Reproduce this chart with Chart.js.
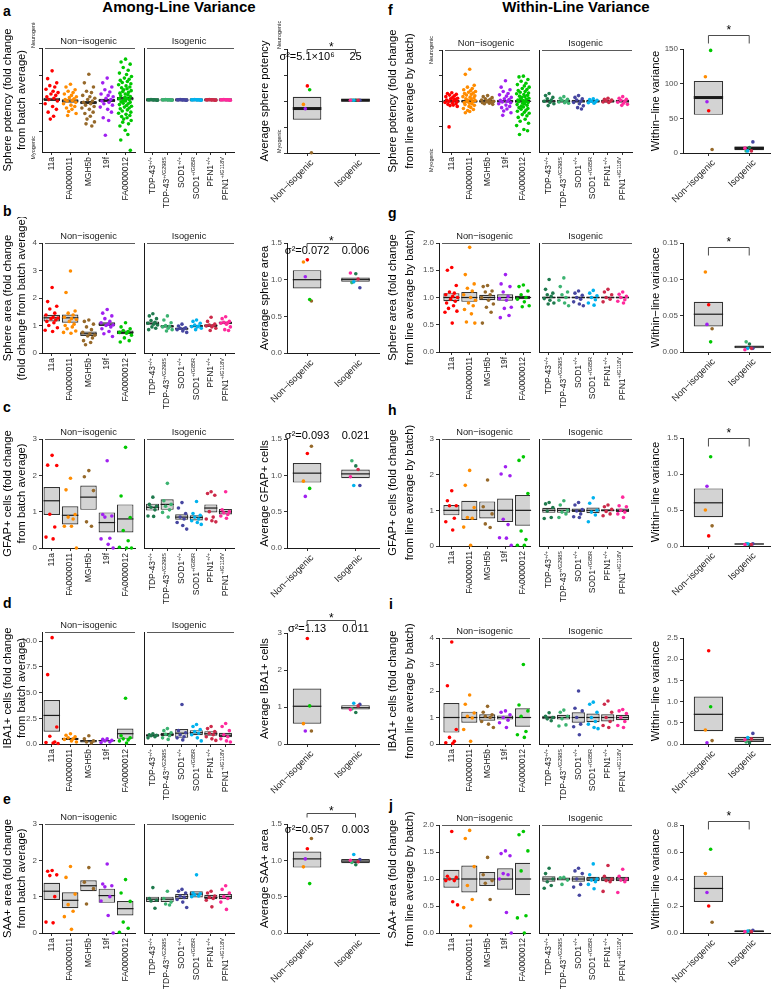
<!DOCTYPE html>
<html><head><meta charset="utf-8">
<script src="https://cdn.jsdelivr.net/npm/chart.js@4.4.1/dist/chart.umd.min.js"></script>
<style>
html,body{margin:0;padding:0;background:#fff;}
#root{position:relative;width:774px;height:995px;overflow:hidden;background:#fff;font-family:"Liberation Sans",Arial,sans-serif;}
.t{position:absolute;font-weight:bold;color:#000;white-space:nowrap;}
.ttl{font-size:15px;line-height:15px;transform:translateX(-50%);top:-1px;}
.lt{font-size:14px;line-height:14px;}
</style></head><body><div id="root">
<div class="t ttl" style="left:179px;">Among-Line Variance</div>
<div class="t ttl" style="left:576px;">Within-Line Variance</div>
<div class="t lt" style="left:3px;top:4px;">a</div>
<div class="t lt" style="left:3px;top:204px;">b</div>
<div class="t lt" style="left:3px;top:400px;">c</div>
<div class="t lt" style="left:3px;top:596px;">d</div>
<div class="t lt" style="left:3px;top:792px;">e</div>
<div class="t lt" style="left:388px;top:3px;">f</div>
<div class="t lt" style="left:388px;top:206px;">g</div>
<div class="t lt" style="left:388px;top:403px;">h</div>
<div class="t lt" style="left:389px;top:597px;">i</div>
<div class="t lt" style="left:389px;top:798px;">j</div>
</div>
<script>
// ---------------- categories, labels, colours ----------------
const nonIsoNames = ['11a','FA0000011','MGH5b','19f','FA0000012'];
const isoNames = ['TDP-43','TDP-43','SOD1','SOD1','PFN1','PFN1'];
const isoSup = ['+/+','+/G298S','+/+','+/G85R','+/+','+/G118V'];
const groupNames = ['Non\u2212isogenic','Isogenic'];
const nonIsoColors = ['#ff0000','#ff8c00','#96692a','#a020f0','#00c800'];
const isoColors = ['#1f7a4d','#3cb371','#4646a0','#00b2ee','#cd2a4a','#ff2a9c'];

// ---------------- panel a ----------------
const aLines = [
 [1.18,0.9,0.75,0.65,0.6,0.52,0.45,0.4,0.35,0.3,0.25,0.2,0.15,0.1,0.0,-0.1,-0.2,-0.3,-0.45,-0.55],
 [0.7,0.6,0.5,0.45,0.4,0.35,0.3,0.25,0.22,0.18,0.15,0.12,0.1,0.05,0.0,-0.05,-0.1,-0.15,-0.2,-0.28,-0.35,-0.42],
 [1.06,0.75,0.6,0.45,0.4,0.3,0.25,0.2,0.15,0.1,0.05,0.0,-0.05,-0.1,-0.15,-0.2,-0.3,-0.35,-0.45,-0.55,-0.65,-0.72,-0.8],
 [0.92,0.75,0.6,0.5,0.42,0.35,0.3,0.25,0.2,0.15,0.1,0.05,0.0,-0.05,-0.12,-0.2,-0.3,-0.5,-0.6,-1.13],
 [1.6,1.5,1.42,1.3,1.2,1.1,1.05,0.98,0.92,0.88,0.84,0.8,0.76,0.72,0.68,0.64,0.6,0.57,0.54,0.5,0.47,0.44,0.41,0.38,0.35,0.32,0.29,0.26,0.23,0.2,0.18,0.15,0.12,0.1,0.07,0.05,0.02,0.0,-0.03,-0.06,-0.09,-0.12,-0.15,-0.18,-0.22,-0.26,-0.3,-0.34,-0.38,-0.42,-0.46,-0.5,-0.55,-0.6,-0.66,-0.72,-0.8,-0.95,-1.1,-1.3,-1.67],
 [0.14,0.14,0.13,0.15,0.14,0.14,0.14,0.13],
 [0.14,0.14,0.13,0.15,0.14,0.14,0.14,0.13],
 [0.14,0.14,0.13,0.15,0.14,0.14,0.14,0.13],
 [0.14,0.14,0.13,0.15,0.14,0.14,0.14,0.13],
 [0.14,0.14,0.13,0.15,0.14,0.14,0.14,0.13],
 [0.14,0.14,0.13,0.15,0.14,0.14,0.14,0.13]];
const aBoxes = [[0.1,0.16,0.22],[0.04,0.1,0.16],[-0.02,0.04,0.1],[0.06,0.12,0.18],[0.12,0.18,0.24],
 [0.08,0.14,0.2],[0.08,0.14,0.2],[0.08,0.14,0.2],[0.08,0.14,0.2],[0.08,0.14,0.2],[0.08,0.14,0.2]];
const aAvgNon = [0.58,-0.13,-1.99,-0.3,0.43];
const aAvgIso = [0.03,0.03,0.03,0.03,0.03,0.03];
const aAvgBoxes = [[-0.72,-0.29,0.16],[-0.02,0.03,0.08]];
const aSigma = ['\u03c3\u00b2=5.1\u00d710\u2076','25'];

// ---------------- panel b ----------------
const bLines = [
 [2.38,1.87,1.7,1.6,1.45,1.38,1.3,1.27,1.25,1.2,1.15,1.1,1.0,0.92,0.83,0.78],
 [2.98,2.2,1.53,1.45,1.38,1.3,1.25,1.22,1.15,1.05,1.0,0.95,0.88,0.8,0.75,0.72],
 [1.2,1.15,1.05,0.95,0.85,0.75,0.7,0.65,0.62,0.55,0.45,0.38,0.3],
 [1.58,1.45,1.35,1.25,1.15,1.1,1.05,1.02,1.0,0.95,0.88,0.78,0.7,0.6],
 [1.1,0.95,0.88,0.82,0.78,0.75,0.72,0.65,0.55,0.45,0.4],
 [1.43,1.35,1.25,1.18,1.12,1.08,1.05,1.02,0.95,0.9,0.85],
 [1.35,1.2,1.1,1.0,0.97,0.95,0.9,0.85,0.8],
 [1.05,0.98,0.92,0.9,0.88,0.85,0.8,0.75],
 [1.2,1.15,1.08,1.02,0.98,0.96,0.95,0.9,0.85],
 [1.3,1.15,1.05,1.02,1.0,0.98,0.95,0.9,0.82],
 [1.32,1.25,1.15,1.12,1.1,1.08,1.05,0.95,0.85,0.82]];
const bBoxes = [[1.15,1.28,1.39],[1.1,1.28,1.4],[0.62,0.7,0.78],[0.98,1.05,1.12],[0.68,0.75,0.82],
 [1.03,1.08,1.15],[0.92,0.97,1.02],[0.85,0.88,0.93],[0.93,0.98,1.02],[0.95,1.0,1.05],[1.05,1.1,1.15]];
const bAvgNon = [1.27,1.24,0.71,1.04,0.73];
const bAvgIso = [1.08,0.96,0.89,0.97,1.01,1.09];
const bAvgBoxes = [[0.88,1.0,1.13],[0.97,1.0,1.03]];
const bSigma = ['\u03c3\u00b2=0.072','0.006'];

// ---------------- panel c ----------------
const cLines = [
 [2.55,2.28,2.27,0.93,0.58,0.3,0.25],
 [1.92,1.6,0.92,0.85,0.8,0.6,0.6,0.0],
 [2.13,1.96,1.58,0.72,0.6],
 [2.4,0.92,0.88,0.85,0.27,0.25,0.1,0.0],
 [2.77,1.43,0.84,0.48,0.2,0.02,0.0,0.0],
 [1.4,1.2,1.15,1.12,1.05,0.88,0.87],
 [1.78,1.3,1.2,1.15,1.05,0.98,0.85],
 [1.25,1.1,0.95,0.85,0.8,0.7,0.62,0.52],
 [1.28,0.95,0.9,0.85,0.8,0.75,0.7,0.65],
 [1.55,1.5,1.45,1.0,0.85,0.8,0.75,0.72],
 [1.55,1.05,1.0,0.97,0.92,0.88,0.82]];
const cBoxes = [[0.91,1.3,1.68],[0.65,0.9,1.15],[1.05,1.4,1.72],[0.43,0.7,0.98],[0.43,0.8,1.2],
 [1.03,1.12,1.22],[1.05,1.2,1.34],[0.78,0.85,0.93],[0.76,0.84,0.9],[0.98,1.1,1.2],[0.92,1.0,1.07]];
const cAvgNon = [1.3,0.92,1.4,0.71,0.82];
const cAvgIso = [1.13,1.2,0.86,0.86,1.08,0.98];
const cAvgBoxes = [[0.9,1.03,1.17],[0.96,1.02,1.08]];
const cSigma = ['\u03c3\u00b2=0.093','0.021'];

// ---------------- panel d ----------------
const dLines = [
 [10.35,6.75,1.65,0.75,0.2,0.15,0.1,0.05],
 [1.0,0.85,0.7,0.6,0.5,0.45,0.3,0.2],
 [0.8,0.5,0.3,0.2,0.1],
 [0.5,0.45,0.35,0.3,0.2,0.15],
 [4.45,0.8,0.6,0.5,0.4,0.3,0.1],
 [1.0,0.9,0.85,0.8,0.7,0.6],
 [1.5,1.3,1.1,0.95,0.8,0.6,0.45],
 [3.85,1.3,1.1,0.9,0.7,0.6,0.4],
 [1.9,1.7,1.4,1.2,1.05,0.9,0.6,0.3],
 [1.7,1.5,1.2,1.05,0.9,0.7,0.5,0.35],
 [2.0,1.7,1.3,0.9,0.7,0.5,0.3,0.2]];
const dBoxes = [[1.2,2.78,4.27],[0.4,0.5,0.6],[0.15,0.3,0.4],[0.25,0.33,0.4],[0.5,1.0,1.5],
 [0.7,0.85,0.95],[0.75,0.92,1.1],[0.6,1.05,1.45],[0.85,1.1,1.35],[0.8,1.0,1.25],[0.65,0.85,1.1]];
const dAvgNon = [2.85,0.55,0.35,0.35,1.03];
const dAvgIso = [0.85,0.95,1.07,1.1,1.03,0.93];
const dAvgBoxes = [[0.55,1.02,1.5],[0.93,0.98,1.05]];
const dSigma = ['\u03c3\u00b2=1.13','0.011'];

// ---------------- panel e ----------------
const eLines = [
 [1.72,1.7,1.6,1.58,1.0,0.3,0.28],
 [1.83,1.53,1.07,0.78,0.6,0.45,0.1],
 [1.8,1.4,1.22,0.8],
 [1.9,1.35,1.3,1.27,1.0,0.88,0.48,0.0],
 [1.47,1.1,0.87,0.3,0.13,0.02],
 [1.25,0.95,0.9,0.88,0.68],
 [1.15,0.95,0.85,0.8,0.77],
 [1.2,1.15,1.1,1.02,0.98,0.92,0.85,0.7],
 [1.6,1.1,1.08,1.05,1.02,1.0],
 [1.15,1.1,1.02,0.98,0.95,0.9,0.72],
 [1.3,1.2,1.1,1.0,0.95,0.85,0.65]];
const eBoxes = [[0.91,1.15,1.38],[0.68,0.9,1.12],[1.15,1.3,1.45],[0.83,1.03,1.22],[0.48,0.67,0.88],
 [0.85,0.93,1.0],[0.85,0.93,1.0],[0.93,1.0,1.07],[0.98,1.07,1.15],[0.93,0.98,1.05],[0.93,1.0,1.07]];
const eAvgNon = [1.16,0.91,1.3,1.02,0.68];
const eAvgIso = [0.94,0.97,1.01,1.08,0.98,1.0];
const eAvgBoxes = [[0.9,1.02,1.12],[0.96,0.99,1.02]];
const eSigma = ['\u03c3\u00b2=0.057','0.003'];

// ---------------- panel f ----------------
const fLines = [
 [0.33,0.3,0.27,0.24,0.21,0.18,0.15,0.12,0.1,0.08,0.05,0.03,0.0,-0.02,-0.05,-0.07,-0.1,-0.12,-0.15,-0.17,-0.2,-1.0],
 [1.25,1.05,0.62,0.55,0.5,0.45,0.42,0.38,0.35,0.32,0.3,0.27,0.24,0.21,0.18,0.16,0.13,0.1,0.08,0.05,0.03,0.0,-0.02,-0.05,-0.08,-0.1,-0.13,-0.16,-0.2,-0.24,-0.28,-0.32,-0.36,-0.4,-0.45],
 [0.22,0.18,0.14,0.1,0.08,0.05,0.03,0.0,-0.02,-0.04,-0.06,-0.08,-0.1,-0.12],
 [0.8,0.55,0.45,0.38,0.3,0.25,0.2,0.15,0.1,0.07,0.04,0.0,-0.03,-0.06,-0.1,-0.15,-0.2,-0.25,-0.3,-0.38,-0.45,-0.55],
 [0.98,0.95,0.85,0.78,0.7,0.65,0.6,0.55,0.5,0.46,0.42,0.38,0.35,0.32,0.29,0.26,0.23,0.2,0.18,0.15,0.12,0.1,0.08,0.05,0.03,0.0,-0.02,-0.05,-0.08,-0.1,-0.13,-0.16,-0.19,-0.22,-0.25,-0.28,-0.31,-0.35,-0.39,-0.43,-0.47,-0.52,-0.57,-0.63,-0.7,-0.78,-0.86,-0.95,-1.1,-1.15,-1.3],
 [0.3,0.22,0.15,0.1,0.05,0.0,-0.05,-0.1,-0.17],
 [0.18,0.12,0.08,0.04,0.0,-0.03,-0.06,-0.08],
 [0.22,0.15,0.1,0.05,0.0,-0.05,-0.1,-0.18,-0.25,-0.3],
 [0.1,0.07,0.04,0.0,-0.03,-0.06,-0.08],
 [0.12,0.08,0.05,0.02,0.0,-0.03,-0.05],
 [0.18,0.12,0.08,0.04,0.0,-0.04,-0.08,-0.12,-0.16]];
const fBoxes = [[-0.06,0,0.06],[-0.06,0,0.06],[-0.06,0,0.06],[-0.06,0,0.06],[-0.06,0,0.06],
 [-0.06,0,0.06],[-0.06,0,0.06],[-0.06,0,0.06],[-0.06,0,0.06],[-0.06,0,0.06],[-0.06,0,0.06]];
const fAvgNon = [61,110,5,74,148];
const fAvgIso = [8,3,16,3,3,7];
const fAvgBoxes = [[55,80,104],[4,7,9]];

// ---------------- panel g ----------------
const gLines = [
 [1.55,1.5,1.22,1.1,1.08,1.05,1.02,1.0,0.97,0.93,0.9,0.85,0.8,0.75,0.73,0.53],
 [1.92,1.42,1.25,1.17,1.12,1.05,1.0,0.95,0.9,0.85,0.78,0.7,0.55,0.53],
 [1.22,1.2,1.12,1.1,1.05,1.0,0.95,0.88,0.82,0.73,0.53],
 [1.42,1.25,1.2,1.1,1.02,0.98,0.95,0.82,0.8,0.67,0.63],
 [1.23,1.2,1.12,1.05,1.0,0.97,0.92,0.85,0.83],
 [1.33,1.15,1.08,1.05,1.02,0.98,0.95,0.9,0.88],
 [1.36,1.2,1.1,1.05,1.0,0.95,0.9,0.85],
 [1.12,1.08,1.04,1.0,0.97,0.92,0.88,0.85],
 [1.13,1.08,1.03,1.0,0.96,0.9,0.86],
 [1.15,1.1,1.05,1.0,0.97,0.92],
 [1.1,1.06,1.02,1.0,0.96,0.93,0.9]];
const gBoxes = [[0.93,1.0,1.08],[0.92,1.0,1.1],[0.95,1.0,1.05],[0.94,1.0,1.06],[0.97,1.0,1.03],
 [0.98,1.0,1.02],[0.98,1.0,1.02],[0.98,1.0,1.02],[0.98,1.0,1.02],[0.98,1.0,1.02],[0.98,1.0,1.02]];
const gAvgNon = [0.065,0.11,0.032,0.038,0.014];
const gAvgIso = [0.011,0.014,0.005,0.005,0.005,0.003];
const gAvgBoxes = [[0.035,0.052,0.069],[0.005,0.007,0.009]];

// ---------------- panel h ----------------
const hLines = [
 [1.55,1.27,1.13,1.13,0.78,0.68,0.45],
 [2.12,1.7,1.08,0.8,0.78,0.53,0.02],
 [1.85,1.1,0.9,0.62,0.52],
 [2.22,2.02,1.97,0.75,0.6,0.23,0.22,0.02],
 [2.5,2.4,1.47,0.42,0.18,0.02,0.02],
 [1.22,1.18,1.08,0.98,0.8,0.77],
 [1.27,1.15,1.0,0.95,0.9,0.8],
 [1.22,1.15,1.02,0.98,0.9,0.82,0.8],
 [1.35,1.2,1.0,0.95,0.87,0.68],
 [1.15,1.1,1.03,0.97,0.9,0.85],
 [1.37,1.13,1.1,1.0,0.95,0.9,0.8]];
const hBoxes = [[0.86,1.0,1.15],[0.73,1.0,1.27],[0.77,1.0,1.25],[0.67,1.0,1.33],[0.57,1.0,1.43],
 [0.93,1.0,1.07],[0.93,1.0,1.07],[0.95,1.0,1.05],[0.92,1.0,1.08],[0.97,1.0,1.03],[0.95,1.0,1.05]];
const hAvgNon = [0.14,0.5,0.28,0.83,1.24];
const hAvgIso = [0.02,0.03,0.03,0.03,0.02,0.02];
const hAvgBoxes = [[0.4,0.6,0.8],[0.02,0.028,0.035]];

// ---------------- panel i ----------------
const iLines = [
 [3.85,2.2,0.55,0.25,0.1,0.05,0.02],
 [1.85,1.5,1.17,1.05,0.98,0.55,0.1],
 [1.42,1.2,1.1,1.05,1.0,0.85,0.75,0.62],
 [1.25,1.2,1.1,1.0,0.9,0.8,0.62],
 [3.0,1.47,1.25,1.05,0.47,0.35,0.25],
 [1.18,1.05,1.0,0.95,0.88],
 [1.28,1.2,1.05,0.95,0.72,0.68],
 [2.0,1.35,1.25,1.0,0.75,0.65,0.35],
 [1.58,1.5,1.2,1.0,0.85,0.75,0.62,0.58],
 [1.62,1.5,1.2,1.0,0.85,0.7,0.62],
 [1.3,1.25,1.15,1.0,0.85,0.7,0.62]];
const iBoxes = [[0.43,1.0,1.55],[0.8,1.0,1.22],[0.88,1.0,1.12],[0.92,1.0,1.08],[0.65,1.0,1.35],
 [0.93,1.0,1.07],[0.92,1.0,1.1],[0.8,1.0,1.2],[0.82,1.0,1.15],[0.85,1.0,1.12],[0.9,1.0,1.1]];
const iAvgNon = [2.2,0.33,0.08,0.03,0.88];
const iAvgIso = [0.03,0.05,0.25,0.15,0.12,0.1];
const iAvgBoxes = [[0.3,0.7,1.12],[0.05,0.1,0.17]];

// ---------------- panel j ----------------
const jLines = [
 [1.88,1.05,1.03,1.0,0.97,0.97,0.58,0.52],
 [1.9,1.75,1.23,0.88,0.62,0.47,0.13],
 [1.4,1.08,0.97,0.92,0.62],
 [1.52,1.47,1.43,1.1,1.08,1.0,0.38,0.0],
 [1.88,1.82,1.52,1.15,0.32,0.28,0.0],
 [1.2,1.1,1.0,0.95,0.88,0.83],
 [1.03,1.02,0.98,0.9],
 [1.2,1.15,1.1,1.0,0.9,0.85,0.7],
 [1.28,1.08,1.0,0.98,0.95,0.9,0.82],
 [1.25,1.05,1.0,0.97,0.95,0.77],
 [1.18,1.05,1.0,0.98,0.95,0.75]];
const jBoxes = [[0.84,1.0,1.17],[0.75,1.0,1.25],[0.87,1.0,1.13],[0.8,1.0,1.2],[0.7,1.0,1.3],
 [0.95,1.0,1.05],[0.97,1.0,1.03],[0.95,1.0,1.05],[0.96,1.0,1.04],[0.96,1.0,1.04],[0.96,1.0,1.04]];
const jAvgNon = [0.2,0.44,0.08,0.3,0.62];
const jAvgIso = [0.015,0.005,0.02,0.015,0.01,0.01];
const jAvgBoxes = [[0.23,0.33,0.425],[0.005,0.012,0.02]];

// ---------------- tick values / labels ----------------
const ticksPot = [-1,0,1,2];
const ticksPotAvg = [-2,-1,0,1,2];
const ticks0to4 = [0,1,2,3,4];
const labels0to4 = ['0','1','2','3','4'];
const ticks0to3 = [0,1,2,3];
const labels0to3 = ['0','1','2','3'];
const ticks15 = [0,0.5,1,1.5];
const labels15 = ['0.0','0.5','1.0','1.5'];
const ticksIba = [0,2.5,5,7.5,10];
const labelsIba = ['0.0','2.5','5.0','7.5','10.0'];
const ticks20 = [0,0.5,1,1.5,2];
const labels20 = ['0.0','0.5','1.0','1.5','2.0'];
const ticks150 = [0,50,100,150];
const labels150 = ['0','50','100','150'];
const ticksG = [0,0.05,0.1,0.15];
const labelsG = ['0.00','0.05','0.10','0.15'];
const ticks25 = [0,0.5,1,1.5,2,2.5];
const labels25 = ['0.0','0.5','1.0','1.5','2.0','2.5'];
const ticks08 = [0,0.2,0.4,0.6,0.8];
const labels08 = ['0.0','0.2','0.4','0.6','0.8'];

// ---------------- drawing machinery ----------------
const root = document.getElementById('root');
const FONT = '"Liberation Sans", Arial, Helvetica, sans-serif';
Chart.defaults.font.family = FONT;
const JIT = [0.02,-0.25,0.3,-0.12,0.18,-0.35,0.08,0.38,-0.05,0.24,-0.3,0.13,-0.18,0.34,-0.4,0.05,0.28,-0.22,0.11,-0.09,0.36,-0.15,0.2,-0.32,0.0,0.16,-0.27,0.31,-0.02,0.09,-0.37,0.25,-0.11];

const LAY = {
 L:{origin:0, axis:42, f1End:137, sep:142, f2End:236, f1x:[-0.533,4.533], f2x:[-0.59,5.59], bAxis:287, bEnd:381, bx:[-0.414,1.485], bLeft:256, tLH:14, tPad:1, bPad:2, bPct:0.59, legs:4, starOff:1.5},
 R:{origin:384, axis:439, f1End:532, sep:537, f2End:634, f1x:[-0.694,4.388], f2x:[-0.67,5.65], bAxis:683, bEnd:772, bx:[-0.624,1.51], bLeft:646, tLH:17.5, tPad:0, bPad:2.7, bPct:0.72, legs:8, starOff:-2}
};

function plot(o) {
  const cw = Math.round(o.x1 - o.cl + o.padR);
  const ct = Math.round(o.y0 - o.padT);
  const ch = Math.round(o.padT + (o.y1 - o.y0) + o.xh + o.padB);
  const c = document.createElement('canvas');
  c.width = cw; c.height = ch;
  c.style.cssText = 'position:absolute;left:' + o.cl + 'px;top:' + ct + 'px;width:' + cw + 'px;height:' + ch + 'px;';
  root.appendChild(c);
  const ds = [];
  ds.push({type:'bar', data:o.boxes.map((b,i)=>({x:i, y:[b[0], b[2]]})), backgroundColor:'#d3d3d3', borderColor:'#333333', borderWidth:1.2, borderSkipped:false, barPercentage:o.boxPct, categoryPercentage:1, order:3});
  ds.push({type:'scatter', data:o.boxes.map((b,i)=>({x:i, y:b[1]})), pointStyle:'line',
    pointRadius:(ctx)=>{const s=ctx.chart.scales.x; return Math.abs(s.getPixelForValue(1)-s.getPixelForValue(0))*o.boxPct/2;},
    pointBorderColor:'#1a1a1a', pointBackgroundColor:'#1a1a1a', pointBorderWidth:o.medW, order:2, clip:false});
  o.pts.forEach((arr,i)=>{
    ds.push({type:'scatter', data:arr.map((v,k)=>({x:i + JIT[k % JIT.length]*o.jit, y:v})), pointRadius:1.8,
      pointBackgroundColor:o.colors[i], pointBorderWidth:0, order:1, clip:false});
  });
  const yTitle = o.title ? {display:true, text:o.title, color:'#000', font:{size:11.2, family:FONT, lineHeight:o.tLH + 'px'}, padding:{top:o.tPad, bottom:0}} : {display:false};
  return new Chart(c, {type:'scatter', data:{datasets:ds}, options:{
    responsive:false, animation:false, devicePixelRatio:1, events:[],
    layout:{padding:{left:o.padL, right:o.padR, top:o.padT, bottom:o.padB}},
    plugins:{legend:{display:false}, tooltip:{enabled:false}},
    scales:{
      x:{type:'linear', min:o.xmin, max:o.xmax, offset:false,
        afterBuildTicks:(s)=>{ s.ticks = o.boxes.map((b,i)=>({value:i})); },
        afterFit:(s)=>{ s.height = o.xh; },
        ticks:{display:false},
        grid:{display:true, offset:false, drawOnChartArea:false, drawTicks:true, tickLength:3, color:'#333333', lineWidth:1},
        border:{display:true, color:'#1a1a1a', width:1}},
      y:{type:'linear', min:o.ymin, max:o.ymax, offset:false,
        afterBuildTicks:(s)=>{ s.ticks = o.yTicks.map(v=>({value:v})); },
        afterFit:(s)=>{ s.width = o.yw; },
        ticks:{display:!!o.yLabels, callback:(v,i)=> o.yLabels ? o.yLabels[i] : '', font:{size:8, family:FONT}, color:'#4d4d4d', padding:2},
        grid:{display:o.yMarks, offset:false, drawOnChartArea:false, drawTicks:true, tickLength:3, color:'#333333', lineWidth:1},
        border:{display:true, color:'#1a1a1a', width:1},
        title:yTitle}
    }}, plugins:o.plugins || []});
}

function xLabelPlugin(base, sup, mode) {
  return {id:'xlab', afterDraw(chart) {
    const ctx = chart.ctx, xs = chart.scales.x, bottom = chart.chartArea.bottom;
    ctx.save(); ctx.fillStyle = '#1a1a1a';
    base.forEach((b,i)=>{
      const x = xs.getPixelForValue(i);
      ctx.save();
      if (mode === 'v') {
        ctx.translate(x, bottom + 5); ctx.rotate(-Math.PI/2);
        ctx.textAlign = 'right'; ctx.textBaseline = 'middle';
        let off = 0;
        if (sup && sup[i]) { ctx.font = '5.5px ' + FONT; ctx.fillText(sup[i], 0, -2.6); off = ctx.measureText(sup[i]).width; }
        ctx.font = '8.5px ' + FONT; ctx.fillText(b, -off, 0);
      } else {
        ctx.translate(x + 2, bottom + 5); ctx.rotate(-Math.PI/4);
        ctx.textAlign = 'right'; ctx.textBaseline = 'top';
        ctx.font = '9.3px ' + FONT; ctx.fillText(b, 0, 0);
      }
      ctx.restore();
    });
    ctx.restore();
  }};
}

function stripPlugin(label) {
  return {id:'strip', afterDraw(chart) {
    const ctx = chart.ctx, a = chart.chartArea;
    ctx.save();
    ctx.strokeStyle = '#5a5a5a'; ctx.lineWidth = 1;
    ctx.beginPath(); ctx.moveTo(a.left + 3, Math.round(a.top) + 0.5); ctx.lineTo(a.right, Math.round(a.top) + 0.5); ctx.stroke();
    ctx.fillStyle = '#1a1a1a'; ctx.font = '9.3px ' + FONT; ctx.textAlign = 'center'; ctx.textBaseline = 'alphabetic';
    ctx.fillText(label, (a.left + a.right)/2, a.top - 4);
    ctx.restore();
  }};
}

function neuroPlugin(xOff, items) {
  return {id:'neuro', afterDraw(chart) {
    const ctx = chart.ctx, ys = chart.scales.y, x = chart.chartArea.left - xOff;
    items.forEach(it=>{
      ctx.save(); ctx.translate(x, ys.getPixelForValue(it.v)); ctx.rotate(-Math.PI/2);
      ctx.textAlign = it.align; ctx.textBaseline = 'middle'; ctx.font = '5.5px ' + FONT; ctx.fillStyle = '#1a1a1a';
      ctx.fillText(it.t, 0, 0); ctx.restore();
    });
  }};
}

function annPlugin(sigma, sigmaVal, bracketVal, S) {
  return {id:'ann', afterDraw(chart) {
    const ctx = chart.ctx, xs = chart.scales.x, ys = chart.scales.y;
    const x0 = xs.getPixelForValue(0), x1 = xs.getPixelForValue(1);
    ctx.save(); ctx.fillStyle = '#000'; ctx.textAlign = 'center';
    if (sigma) {
      ctx.font = '11px ' + FONT; ctx.textBaseline = 'middle';
      const y = ys.getPixelForValue(sigmaVal);
      ctx.fillText(sigma[0], x0, y); ctx.fillText(sigma[1], x1, y);
    }
    if (bracketVal !== null) {
      const y = Math.round(ys.getPixelForValue(bracketVal)) + 0.5;
      ctx.strokeStyle = '#4d4d4d'; ctx.lineWidth = 1;
      ctx.beginPath(); ctx.moveTo(x0, y + S.legs); ctx.lineTo(x0, y); ctx.lineTo(x1, y); ctx.lineTo(x1, y + S.legs); ctx.stroke();
      ctx.font = '12px ' + FONT; ctx.textBaseline = 'alphabetic';
      ctx.fillText('*', (x0 + x1)/2, y + S.starOff);
    }
    ctx.restore();
  }};
}

function row(p) {
  const S = LAY[p.side];
  const axis = p.axis || S.axis;
  const f1x = p.f1x || S.f1x;
  const jit = p.jit || 0.9;
  const medS = p.medS || 1.2;
  const f1Plugins = [stripPlugin(groupNames[0]), xLabelPlugin(nonIsoNames, null, 'v')];
  if (p.neuroStrip) f1Plugins.push(neuroPlugin(p.neuroStrip.off, p.neuroStrip.items));
  plot({cl:S.origin, x1:S.f1End, y0:p.sy0, y1:p.sy1, padL:0, padR:2, padT:26, padB:70, xh:4, yw:axis - S.origin,
    xmin:f1x[0], xmax:f1x[1], ymin:p.symin, ymax:p.symax, yTicks:p.syTicks, yLabels:p.syLabels, yMarks:true,
    title:p.stitle, tLH:S.tLH, tPad:S.tPad,
    boxes:p.boxes.slice(0,5), pts:p.lines.slice(0,5), colors:nonIsoColors, boxPct:0.9, jit:jit, medW:medS,
    plugins:f1Plugins});
  plot({cl:S.sep - 2, x1:S.f2End, y0:p.sy0, y1:p.sy1, padL:2, padR:2, padT:26, padB:70, xh:4, yw:0,
    xmin:S.f2x[0], xmax:S.f2x[1], ymin:p.symin, ymax:p.symax, yTicks:p.syTicks, yLabels:null, yMarks:false,
    title:null, boxes:p.boxes.slice(5), pts:p.lines.slice(5), colors:isoColors, boxPct:0.9, jit:jit, medW:medS,
    plugins:[stripPlugin(groupNames[1]), xLabelPlugin(isoNames, isoSup, 'v')]});
  const bPlugins = [xLabelPlugin(groupNames, null, 'd'), annPlugin(p.sigma || null, p.sigmaVal, p.bracketVal === undefined ? null : p.bracketVal, S)];
  if (p.neuroBox) bPlugins.push(neuroPlugin(p.neuroBox.off, p.neuroBox.items));
  plot({cl:S.bLeft, x1:S.bEnd, y0:p.by0, y1:p.by1, padL:0, padR:2, padT:30, padB:70, xh:4, yw:S.bAxis - S.bLeft,
    xmin:S.bx[0], xmax:S.bx[1], ymin:p.bymin, ymax:p.bymax, yTicks:p.byTicks, yLabels:p.byLabels, yMarks:true,
    title:p.btitle, tLH:14, tPad:S.bPad,
    boxes:p.avgBoxes, pts:[p.avgNon, p.avgIso], colors:[nonIsoColors, isoColors], boxPct:S.bPct, jit:0.3, medW:p.medB || 1.2,
    plugins:bPlugins});
}

const withinTitle = 'Within\u2212line variance';

row({side:'L', lines:aLines, boxes:aBoxes, avgNon:aAvgNon, avgIso:aAvgIso, avgBoxes:aAvgBoxes,
  sy0:48, sy1:152, symin:-1.73, symax:2, syTicks:ticksPot, syLabels:null,
  by0:49, by1:153, bymin:-2, bymax:2, byTicks:ticksPotAvg, byLabels:null, medB:3,
  stitle:['Sphere potency (fold change','from batch average)'], btitle:'Average sphere potency',
  sigma:aSigma, sigmaVal:1.69, bracketVal:2.0,
  neuroStrip:{off:9, items:[{t:'Neurogenic', v:2, align:'left'},{t:'Myogenic', v:-2, align:'left'}]},
  neuroBox:{off:8, items:[{t:'Neurogenic', v:2, align:'left'},{t:'Myogenic', v:-2, align:'left'}]}});
row({side:'L', lines:bLines, boxes:bBoxes, avgNon:bAvgNon, avgIso:bAvgIso, avgBoxes:bAvgBoxes,
  sy0:243, sy1:353, symin:0, symax:4, syTicks:ticks0to4, syLabels:labels0to4,
  by0:243, by1:353, bymin:0, bymax:1.5, byTicks:ticks15, byLabels:labels15,
  stitle:['Sphere area (fold change','(fold change from batch average)'], btitle:'Average sphere area',
  sigma:bSigma, sigmaVal:1.386, bracketVal:1.5});
row({side:'L', lines:cLines, boxes:cBoxes, avgNon:cAvgNon, avgIso:cAvgIso, avgBoxes:cAvgBoxes,
  sy0:439, sy1:548, symin:0, symax:3, syTicks:ticks0to3, syLabels:labels0to3,
  by0:439, by1:548, bymin:0, bymax:1.5, byTicks:ticks15, byLabels:labels15,
  stitle:['GFAP+ cells (fold change','from batch average)'], btitle:'Average GFAP+ cells',
  sigma:cSigma, sigmaVal:1.545, bracketVal:null});
row({side:'L', lines:dLines, boxes:dBoxes, avgNon:dAvgNon, avgIso:dAvgIso, avgBoxes:dAvgBoxes,
  sy0:632, sy1:744, symin:0, symax:10.9, syTicks:ticksIba, syLabels:labelsIba,
  by0:633, by1:744, bymin:0, bymax:3, byTicks:ticks0to3, byLabels:labels0to3,
  stitle:['IBA1+ cells (fold change','from batch average)'], btitle:'Average IBA1+ cells',
  sigma:dSigma, sigmaVal:3.12, bracketVal:3.36});
row({side:'L', lines:eLines, boxes:eBoxes, avgNon:eAvgNon, avgIso:eAvgIso, avgBoxes:eAvgBoxes,
  sy0:824, sy1:933, symin:0, symax:3, syTicks:ticks0to3, syLabels:labels0to3,
  by0:824, by1:933, bymin:0, bymax:1.5, byTicks:ticks15, byLabels:labels15,
  stitle:['SAA+ area (fold change','from batch average)'], btitle:'Average SAA+ area',
  sigma:eSigma, sigmaVal:1.417, bracketVal:1.65});

row({side:'R', axis:442, f1x:[-0.53,4.388], lines:fLines, boxes:fBoxes, avgNon:fAvgNon, avgIso:fAvgIso, avgBoxes:fAvgBoxes,
  sy0:50, sy1:152, symin:-1.98, symax:2, syTicks:ticksPot, syLabels:null,
  by0:49, by1:153, bymin:0, bymax:150, byTicks:ticks150, byLabels:labels150, medB:3,
  stitle:['Sphere potency (fold change','from line average by batch)'], btitle:withinTitle,
  bracketVal:170,
  neuroStrip:{off:11, items:[{t:'Neurogenic', v:2, align:'center'},{t:'Myogenic', v:-2.3, align:'center'}]}});
row({side:'R', lines:gLines, boxes:gBoxes, avgNon:gAvgNon, avgIso:gAvgIso, avgBoxes:gAvgBoxes,
  sy0:243, sy1:352, symin:0, symax:2, syTicks:ticks20, syLabels:labels20,
  by0:243, by1:352, bymin:0, bymax:0.15, byTicks:ticksG, byLabels:labelsG,
  stitle:['Sphere area (fold change','from line average by batch)'], btitle:withinTitle,
  bracketVal:0.144});
row({side:'R', lines:hLines, boxes:hBoxes, avgNon:hAvgNon, avgIso:hAvgIso, avgBoxes:hAvgBoxes,
  sy0:439, sy1:546, symin:0, symax:3, syTicks:ticks0to3, syLabels:labels0to3,
  by0:438, by1:546, bymin:0, bymax:1.5, byTicks:ticks15, byLabels:labels15,
  stitle:['GFAP+ cells (fold change','from line average by batch)'], btitle:withinTitle,
  bracketVal:1.5});
row({side:'R', lines:iLines, boxes:iBoxes, avgNon:iAvgNon, avgIso:iAvgIso, avgBoxes:iAvgBoxes,
  sy0:638, sy1:744, symin:0, symax:4, syTicks:ticks0to4, syLabels:labels0to4,
  by0:638, by1:744, bymin:0, bymax:2.5, byTicks:ticks25, byLabels:labels25,
  stitle:['IBA1+ cells (fold change','from line average by batch)'], btitle:withinTitle,
  bracketVal:null});
row({side:'R', lines:jLines, boxes:jBoxes, avgNon:jAvgNon, avgIso:jAvgIso, avgBoxes:jAvgBoxes,
  sy0:825, sy1:933, symin:0, symax:2, syTicks:ticks20, syLabels:labels20,
  by0:825, by1:933, bymin:0, bymax:0.8, byTicks:ticks08, byLabels:labels08,
  stitle:['SAA+ area (fold change','from line average by batch)'], btitle:withinTitle,
  bracketVal:0.827});
</script></body></html>
